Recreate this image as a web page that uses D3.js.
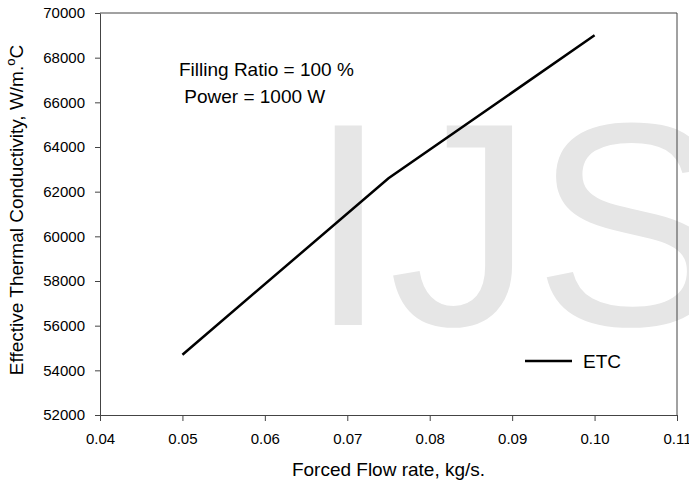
<!DOCTYPE html>
<html>
<head>
<meta charset="utf-8">
<script src="https://cdn.jsdelivr.net/npm/d3@7"></script>
<style>
  body { margin: 0; background: #fff; }
  svg { font-family: "Liberation Sans", Arial, sans-serif; }
  .axis path, .axis line { stroke: #444; }
  .axis text { fill: #000; font-size: 15px; }
</style>
</head>
<body>
<svg width="689" height="483"></svg>
<script>
// data
var flowRate = [0.05, 0.075, 0.10];
var etc = [54700, 62600, 69000];
var xTicks = [0.04, 0.05, 0.06, 0.07, 0.08, 0.09, 0.10, 0.11];
var yTicks = [52000, 54000, 56000, 58000, 60000, 62000, 64000, 66000, 68000, 70000];
var notes = ["Filling Ratio = 100 %", " Power = 1000 W"];

var svg = d3.select("svg"),
    margin = {top: 13, right: 12, bottom: 68, left: 100},
    width = 689 - margin.left - margin.right,
    height = 483 - margin.top - margin.bottom;

// watermark sits behind everything
svg.append("text")
    .attr("x", 308)
    .attr("y", 325)
    .attr("font-size", 290)
    .attr("fill", "#e6e6e6")
    .text("IJS");

var g = svg.append("g").attr("transform", "translate(" + margin.left + "," + margin.top + ")");

var x = d3.scaleLinear().domain([0.04, 0.11]).range([0, width]),
    y = d3.scaleLinear().domain([52000, 70000]).range([height, 0]);

g.append("g")
    .attr("class", "axis")
    .attr("transform", "translate(0," + height + ")")
    .call(d3.axisBottom(x).tickValues(xTicks).tickFormat(d3.format(".2f")).tickSizeInner(6).tickSizeOuter(0).tickPadding(12));

g.append("g")
    .attr("class", "axis")
    .call(d3.axisLeft(y).tickValues(yTicks).tickFormat(d3.format("d")).tickSizeInner(5).tickSizeOuter(0).tickPadding(10));

// box frame top and right
g.append("line").attr("x1", 0).attr("x2", width).attr("y1", 0).attr("y2", 0).attr("stroke", "#444");
g.append("line").attr("x1", width).attr("x2", width).attr("y1", 0).attr("y2", height).attr("stroke", "#444");

var line = d3.line()
    .x(function(d, i) { return x(flowRate[i]); })
    .y(function(d) { return y(d); });

g.append("path")
    .datum(etc)
    .attr("fill", "none")
    .attr("stroke", "#000")
    .attr("stroke-width", 2.5)
    .attr("d", line);

// annotation
g.selectAll(".note")
    .data(notes)
    .enter().append("text")
    .attr("class", "note")
    .attr("x", 79)
    .attr("y", function(d, i) { return 63 + i * 27; })
    .attr("font-size", 19)
    .attr("xml:space", "preserve")
    .style("white-space", "pre")
    .text(function(d) { return d; });

// legend
g.append("line")
    .attr("x1", 425).attr("x2", 472)
    .attr("y1", 348).attr("y2", 348)
    .attr("stroke", "#000").attr("stroke-width", 2.5);
g.append("text")
    .attr("x", 483).attr("y", 355)
    .attr("font-size", 19)
    .text("ETC");

// axis titles
svg.append("text")
    .attr("x", margin.left + width / 2)
    .attr("y", 476)
    .attr("text-anchor", "middle")
    .attr("font-size", 19)
    .text("Forced Flow rate, kg/s.");

var yt = svg.append("text")
    .attr("transform", "translate(23,210) rotate(-90)")
    .attr("text-anchor", "middle")
    .attr("font-size", 19)
    .text("Effective Thermal Conductivity, W/m.");
yt.append("tspan").attr("dy", -8).attr("font-size", 13).text("o");
yt.append("tspan").attr("dy", 8).text("C");
</script>
</body>
</html>
